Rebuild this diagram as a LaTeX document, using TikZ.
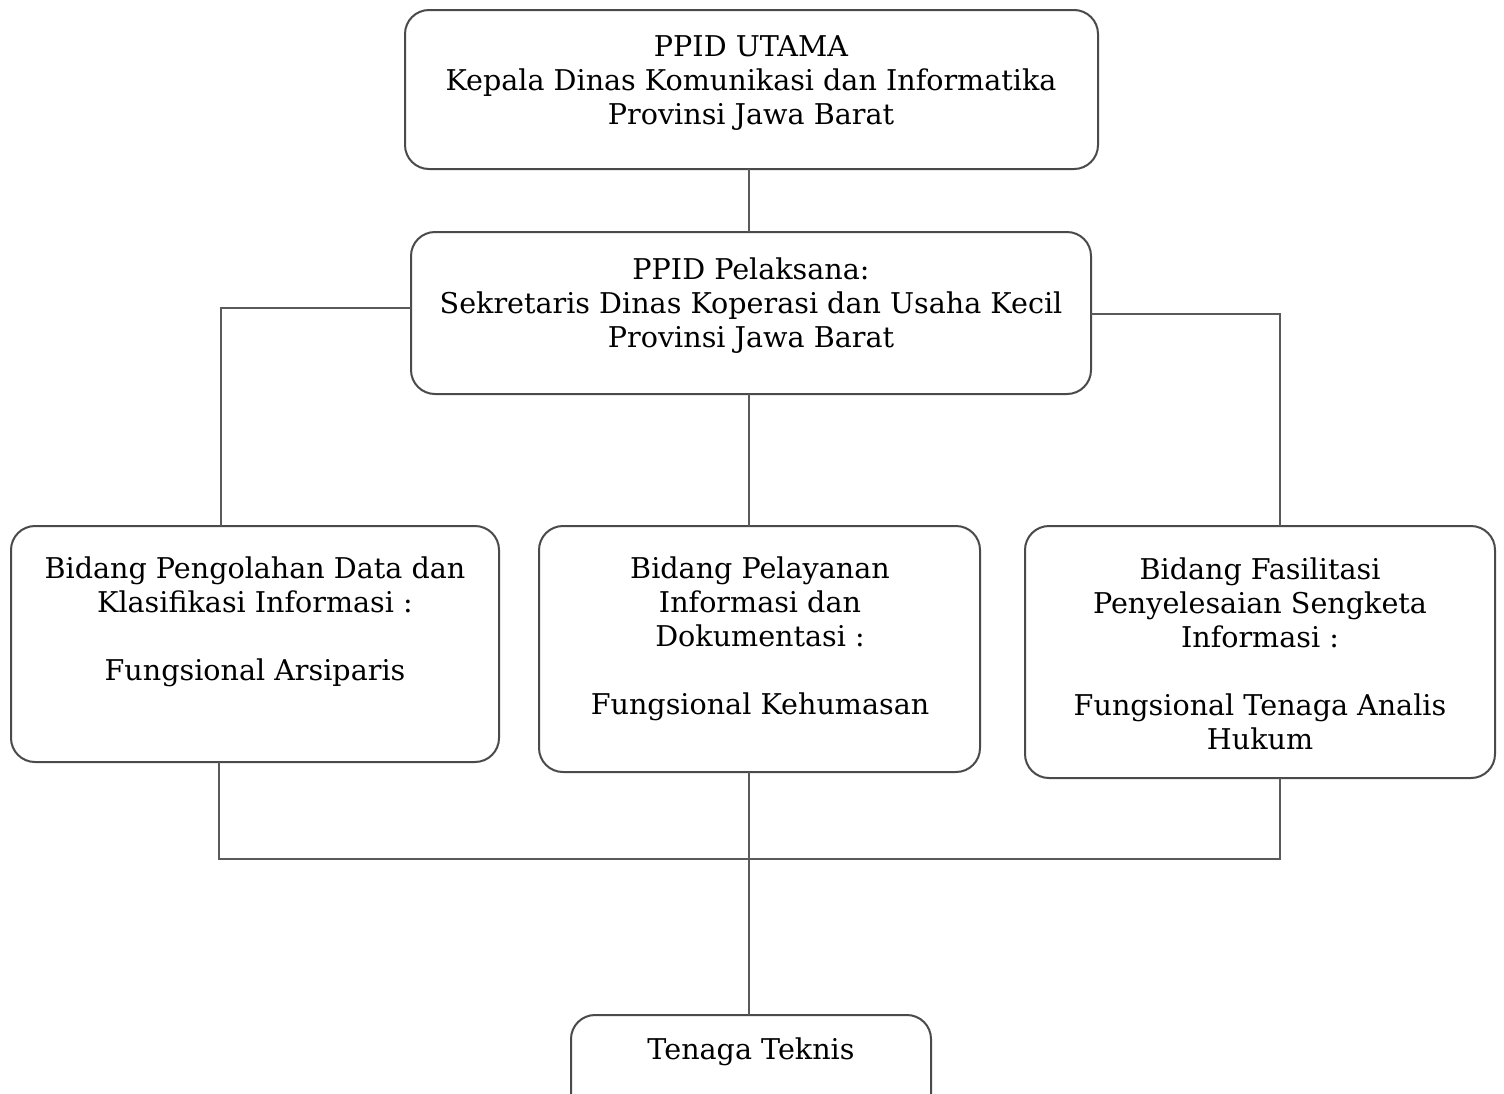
\documentclass[tikz,border=0pt]{standalone}
\usepackage{fontspec}
\setmainfont{DejaVu Serif}
\definecolor{boxc}{HTML}{4A4A4A}
\definecolor{linec}{HTML}{5A5A5A}
\begin{document}
\begin{tikzpicture}[x=0.5pt,y=-0.5pt,
  box/.style={draw=boxc, line width=1pt, rounded corners=12pt, inner sep=0pt, outer sep=0pt},
  txt/.style={align=center, font=\fontsize{14.3}{17}\selectfont, inner sep=0pt, text=black},
  conn/.style={draw=linec, line width=1pt}]
\useasboundingbox (0,0) rectangle (1504,1093);
% boxes
\node[box, minimum width=346.5pt, minimum height=79.5pt] (utama) at (751.5,89.5) {};
\node[box, minimum width=340pt, minimum height=81pt] (pelaksana) at (751,313) {};
\node[box, minimum width=244pt, minimum height=118pt] (left) at (255,644) {};
\node[box, minimum width=220.5pt, minimum height=123pt] (mid) at (759.5,649) {};
\node[box, minimum width=235pt, minimum height=126pt] (right) at (1260,652) {};
\node[box, minimum width=180pt, minimum height=52.5pt] (bottom) at (751,1067.5) {};
% texts
\node[txt] (t1) at (751,83.5) {PPID UTAMA\\Kepala Dinas Komunikasi dan Informatika\\Provinsi Jawa Barat};
\node[txt] (t2) at (751,305.5) {PPID Pelaksana:\\Sekretaris Dinas Koperasi dan Usaha Kecil\\Provinsi Jawa Barat};
\node[txt] (t3) at (255,622) {Bidang Pengolahan Data dan\\Klasifikasi Informasi :\\~\\Fungsional Arsiparis};
\node[txt] (t4) at (760,639) {Bidang Pelayanan\\Informasi dan\\Dokumentasi :\\~\\Fungsional Kehumasan};
\node[txt] (t5) at (1260,654) {Bidang Fasilitasi\\Penyelesaian Sengketa\\Informasi :\\~\\Fungsional Tenaga Analis\\Hukum};
\node[txt] (t6) at (751,1052) {Tenaga Teknis};
% helper coordinates
\coordinate (cx) at (749,0);
\coordinate (xl) at (221,0);
\coordinate (xl2) at (219,0);
\coordinate (xr) at (1280,0);
\coordinate (yl) at (0,308);
\coordinate (yr) at (0,314);
\coordinate (ybus) at (0,859);
% connectors
\draw[conn] (utama.south -| cx) -- (pelaksana.north -| cx);
\draw[conn] (pelaksana.west |- yl) -| (left.north -| xl);
\draw[conn] (pelaksana.east |- yr) -| (right.north -| xr);
\draw[conn] (pelaksana.south -| cx) -- (mid.north -| cx);
\draw[conn] (left.south -| xl2) -- (xl2 |- ybus) -- (xr |- ybus) -- (right.south -| xr);
\draw[conn] (mid.south -| cx) -- (bottom.north -| cx);
\end{tikzpicture}
\end{document}
